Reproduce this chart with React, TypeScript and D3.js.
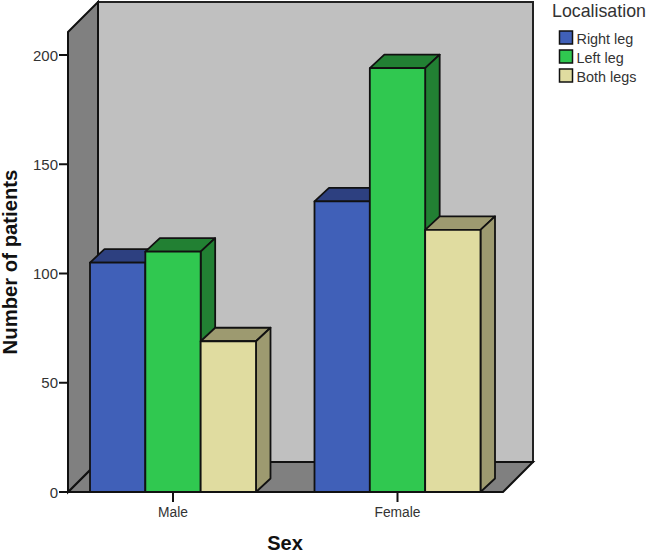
import React from 'react';
import * as d3 from 'd3';

const categories = ['Male', 'Female'];
const seriesNames = ['Right leg', 'Left leg', 'Both legs'];
const maleValues = [105, 110, 69];
const femaleValues = [133, 194, 120];
const yTicks = [0, 50, 100, 150, 200];

const colors = ['#4060b8', '#30c850', '#e0dca0'];
const topColors = ['#2d4080', '#228033', '#9d9a70'];
const sideColors = ['#2d4080', '#228033', '#9d9a70'];

const fontFamily = '"Liberation Sans", Arial, sans-serif';
const dx = 14.5;
const dy = -13.5;
const x0 = 68;
const x1 = 503;
const yTop = 32;

const y = d3.scaleLinear().domain([0, 200]).range([492, 55]);
const xGroup = d3.scalePoint<string>().domain(categories).range([173, 397.5]);
const xInner = d3.scaleBand<string>().domain(seriesNames).range([-83, 83]);

const poly = (pts: [number, number][]) => {
  const line = d3.line();
  return line(pts) + 'Z';
};

export default function App() {
  const base = y(0);
  const wallDx = 30;
  const wallDy = -30;
  const groups = [maleValues, femaleValues];

  return (
    <svg width={649} height={553} style={{ position: 'absolute', left: 0, top: 0, background: '#fff' }} fontFamily={fontFamily}>
      {/* back wall, floor, left wall */}
      <path d={poly([[x0 + wallDx, yTop + wallDy], [x1 + wallDx, yTop + wallDy], [x1 + wallDx, base + wallDy], [x0 + wallDx, base + wallDy]])} fill="#c0c0c0" stroke="#222" strokeWidth={2} />
      <path d={poly([[x0, base], [x0 + wallDx, base + wallDy], [x1 + wallDx, base + wallDy], [x1, base]])} fill="#808080" stroke="#111" strokeWidth={2} />
      <path d={poly([[x0, yTop], [x0 + wallDx, yTop + wallDy], [x0 + wallDx, base + wallDy], [x0, base]])} fill="#808080" stroke="#111" strokeWidth={2} />

      {/* bars */}
      {categories.map((cat, ci) => (
        <g key={cat} transform={`translate(${xGroup(cat)},0)`}>
          {seriesNames.map((s, si) => {
            const left = xInner(s) as number;
            const w = xInner.bandwidth();
            const top = y(groups[ci][si]);
            return (
              <g key={s} stroke="#111" strokeWidth={1.8} strokeLinejoin="round">
                <path d={poly([[left, top], [left + dx, top + dy], [left + w + dx, top + dy], [left + w, top]])} fill={topColors[si]} />
                <path d={poly([[left + w, top], [left + w + dx, top + dy], [left + w + dx, base + dy], [left + w, base]])} fill={sideColors[si]} />
                <rect x={left} y={top} width={w} height={base - top} fill={colors[si]} />
              </g>
            );
          })}
        </g>
      ))}

      {/* y axis */}
      <line x1={x0} x2={x0} y1={yTop} y2={base} stroke="#111" strokeWidth={2} />
      <line x1={x0} x2={x1} y1={base} y2={base} stroke="#111" strokeWidth={2} />
      {yTicks.map((t) => (
        <g key={t}>
          <line x1={59} x2={x0} y1={y(t)} y2={y(t)} stroke="#111" strokeWidth={2} />
          <text x={58} y={y(t) + 5.5} textAnchor="end" fontSize={15} fill="#333">{t}</text>
        </g>
      ))}

      {/* x axis */}
      {categories.map((cat) => (
        <g key={cat}>
          <line x1={xGroup(cat)} x2={xGroup(cat)} y1={base} y2={502} stroke="#111" strokeWidth={2} />
          <text x={xGroup(cat)} y={517} textAnchor="middle" fontSize={13.8} fill="#333">{cat}</text>
        </g>
      ))}

      <text x={285} y={550} textAnchor="middle" fontSize={20} fontWeight="bold" fill="#111">Sex</text>
      <text transform="translate(17,262) rotate(-90)" textAnchor="middle" fontSize={20.3} fontWeight="bold" fill="#111">Number of patients</text>

      {/* legend */}
      <text x={552} y={16.5} fontSize={17.8} fill="#333">Localisation</text>
      {seriesNames.map((s, i) => {
        const ly = d3.scalePoint<string>().domain(seriesNames).range([31, 69])(s) as number;
        return (
          <g key={s}>
            <rect x={559.5} y={ly} width={13} height={13} fill={colors[i]} stroke="#111" strokeWidth={1.5} />
            <text x={576.5} y={ly + 13} fontSize={14.4} fill="#333">{s}</text>
          </g>
        );
      })}
    </svg>
  );
}
